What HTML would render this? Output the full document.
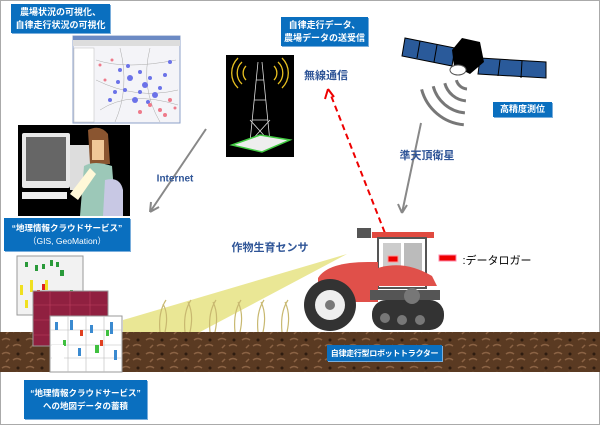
<!DOCTYPE html>
<html><head><meta charset="utf-8"><style>
body{margin:0;width:600px;height:425px;overflow:hidden;background:#fff;font-family:"Liberation Sans","Noto Sans CJK JP",sans-serif}
.f{position:absolute;left:0;top:0;width:598px;height:423px;border:1px solid #aaa}
.b{position:absolute;background:#0a6fbf;color:#fff;font-size:9px;font-weight:bold;text-align:center;line-height:13px;display:flex;flex-direction:column;justify-content:center;box-shadow:1px 1px 0 #7aaedc;white-space:nowrap}
.t{position:absolute;color:#2f5597;font-size:11px;font-weight:bold;white-space:nowrap;transform:translate(-50%,-50%)}
</style></head><body>
<div class="f"></div>
<svg width="600" height="425" style="position:absolute;left:0;top:0">
<defs>
<pattern id="soil" width="24" height="14" patternUnits="userSpaceOnUse"><rect width="24" height="14" fill="#5a3a22"/><path d="M2 4q4-3 8 0M13 10q4-3 8 0M6 12l3-3" stroke="#8a6244" stroke-width="1.5" fill="none"/><circle cx="18" cy="4" r="1.5" fill="#2e1c10"/></pattern>
</defs>
<rect x="0" y="332" width="600" height="40" fill="url(#soil)"/>
<polygon points="347,254 123,320 123,332 200,332" fill="#e8e48a" opacity="0.9"/>
<g stroke="#c8b870" stroke-width="1.2" fill="none">
<path d="M160 332q-2-20 6-32M165 332q4-18-2-28M185 332q-2-20 6-32M190 332q4-18-2-30M210 332q-2-20 6-32M215 332q4-18-2-30M235 332q-2-20 6-32M240 332q4-18-2-30M258 332q-2-20 6-32M263 332q4-18-2-30M282 332q-2-20 6-32M287 332q4-18-2-30"/>
</g>
<!-- screenshot -->
<rect x="73" y="36" width="107" height="87" fill="#f4f4f8" stroke="#8ca0c8"/>
<rect x="73" y="36" width="107" height="4" fill="#6c8ac4"/>
<rect x="73" y="40" width="107" height="6" fill="#ddd"/>
<rect x="74" y="48" width="20" height="74" fill="#fff" stroke="#bbb" stroke-width=".5"/>
<g stroke="#aaa" stroke-width=".5" fill="none"><path d="M96 60q30 10 80 0M96 80q40 20 82 10M100 110q30-20 78-5M120 48q10 40 -5 74M150 48q-10 40 10 74"/></g>
<g fill="#6b72e8"><circle cx="120" cy="70" r="2"/><circle cx="130" cy="78" r="3"/><circle cx="140" cy="72" r="2"/><circle cx="145" cy="85" r="3"/><circle cx="125" cy="90" r="2"/><circle cx="155" cy="95" r="3"/><circle cx="165" cy="75" r="2"/><circle cx="110" cy="100" r="2"/><circle cx="135" cy="100" r="3"/><circle cx="118" cy="82" r="2"/><circle cx="128" cy="66" r="2"/><circle cx="150" cy="78" r="2"/><circle cx="140" cy="92" r="2"/><circle cx="160" cy="88" r="2"/><circle cx="115" cy="92" r="2"/><circle cx="148" cy="102" r="2"/><circle cx="170" cy="62" r="2"/></g>
<g fill="#ee7a8a"><circle cx="112" cy="60" r="1.5"/><circle cx="150" cy="105" r="2"/><circle cx="160" cy="110" r="2"/><circle cx="170" cy="100" r="2"/><circle cx="105" cy="80" r="1.5"/><circle cx="165" cy="115" r="2"/><circle cx="140" cy="112" r="2"/><circle cx="100" cy="65" r="1.5"/><circle cx="175" cy="108" r="1.5"/></g>
<!-- computer image -->
<rect x="18" y="125" width="112" height="91" fill="#000"/>
<rect x="22" y="133" width="48" height="55" fill="#e8e8e8" rx="2"/>
<rect x="26" y="137" width="40" height="44" fill="#666"/>
<rect x="70" y="145" width="22" height="45" fill="#ddd"/>
<rect x="22" y="192" width="45" height="7" fill="#eee"/>
<path d="M88 130q12-6 20 4l2 30h-20z" fill="#8a5530"/>
<path d="M92 140h12v20h-12z" fill="#f0c898"/>
<path d="M84 166q10-6 28 0l4 50h-36z" fill="#9cc8b8"/>
<path d="M70 194l20-26 6 6-18 26z" fill="#fff8d8"/>
<path d="M105 180q15-4 18 10v26h-20z" fill="#c8c8e4"/>
<!-- tower -->
<rect x="226" y="55" width="68" height="102" fill="#000"/>
<g stroke="#ddd" stroke-width=".8" fill="none"><path d="M258 62l-8 80M262 62l8 80M252 120h16M254 100h12M256 80h8M250 142l20-22M270 142l-20-22"/></g>
<polygon points="232,145 260,135 290,140 262,152" fill="#eee" stroke="#4c4" stroke-width="1.5"/>
<g stroke="#e8c020" stroke-width="1.3" fill="none">
<path d="M246 66a10 10 0 0 0 0 14M242 62a15 15 0 0 0 0 22M238 58a21 21 0 0 0 0 30"/>
<path d="M274 66a10 10 0 0 1 0 14M278 62a15 15 0 0 1 0 22M282 58a21 21 0 0 1 0 30"/>
</g>
<!-- satellite -->
<polygon points="405,38 455,48 452,66 402,56" fill="#2a5a9a" stroke="#000"/>
<polygon points="480,58 546,62 546,78 478,74" fill="#2a5a9a" stroke="#000"/>
<path d="M420 41l-3 17M437 45l-3 17M500 60l-2 16M522 61l-1 17" stroke="#000"/>
<polygon points="462,38 480,42 484,62 470,74 454,66 452,50" fill="#000"/>
<ellipse cx="458" cy="70" rx="8" ry="5" fill="#fff" stroke="#555"/>
<g stroke="#777" stroke-width="3" fill="none">
<path d="M456.4 80.1A12 12 0 0 0 467 89"/>
<path d="M444.8 83.2A24 24 0 0 0 465.9 100.9"/>
<path d="M433.2 86.3A36 36 0 0 0 464.9 112.9"/>
<path d="M421.6 89.4A48 48 0 0 0 463.8 124.8"/>
</g>
<!-- arrows -->
<g stroke="#888" stroke-width="2" fill="none">
<path d="M206 129L150 212M150 212l1-10M150 212l9-5"/>
<path d="M421 123L402 213M402 213l-4-9M402 213l5-8"/>
</g>
<path d="M392 251L330 93" stroke="#e00" stroke-width="2" stroke-dasharray="6,4" fill="none"/>
<path d="M328 89l-3 10M328 89l6 8" stroke="#e00" stroke-width="2"/>
<!-- maps -->
<rect x="17" y="256" width="66" height="59" fill="#f2f2f2" stroke="#999"/>
<g fill="#2a9a3a"><rect x="25" y="262" width="3" height="5"/><rect x="35" y="265" width="3" height="6"/><rect x="50" y="260" width="3" height="6"/><rect x="60" y="270" width="4" height="6"/><rect x="70" y="290" width="3" height="5"/><rect x="65" y="305" width="3" height="4"/><rect x="42" y="264" width="3" height="5"/><rect x="56" y="262" width="3" height="5"/></g>
<g fill="#f0e020"><rect x="20" y="285" width="3" height="10"/><rect x="30" y="280" width="3" height="12"/><rect x="45" y="280" width="3" height="10"/><rect x="25" y="300" width="3" height="8"/></g>
<g fill="#e02020"><rect x="37" y="290" width="3" height="8"/><rect x="48" y="295" width="3" height="6"/><rect x="36" y="305" width="4" height="4"/><rect x="42" y="284" width="3" height="6"/></g>
<rect x="33" y="291" width="75" height="55" fill="#902040" stroke="#999"/>
<g stroke="#c04060" stroke-width=".6"><path d="M33 305h75M33 320h75M33 335h75M50 291v55M70 291v55M90 291v55"/></g>
<rect x="50" y="316" width="72" height="56" fill="#fff" stroke="#999"/>
<g stroke="#bbb" stroke-width=".6"><path d="M50 330h72M50 345h72M50 358h72M68 316v56M86 316v56M104 316v56"/></g>
<g fill="#3a8ad0"><rect x="55" y="322" width="3" height="8"/><rect x="70" y="320" width="3" height="10"/><rect x="90" y="325" width="3" height="8"/><rect x="110" y="322" width="3" height="12"/><rect x="78" y="348" width="3" height="8"/><rect x="114" y="350" width="3" height="10"/></g>
<g fill="#e04020"><rect x="80" y="330" width="3" height="6"/><rect x="100" y="340" width="3" height="6"/><rect x="60" y="350" width="3" height="5"/></g>
<g fill="#40c040"><rect x="63" y="340" width="3" height="6"/><rect x="95" y="345" width="4" height="8"/><rect x="106" y="330" width="3" height="6"/></g>
<rect x="52" y="345" width="12" height="25" fill="#fff"/>
<!-- tractor -->
<g>
<rect x="372" y="232" width="62" height="6" fill="#e04a40"/>
<rect x="378" y="238" width="48" height="50" fill="#fff" stroke="#555" stroke-width="2"/>
<rect x="383" y="243" width="18" height="40" fill="#ccc"/>
<rect x="404" y="243" width="18" height="30" fill="#bbb"/>
<rect x="357" y="228" width="14" height="10" fill="#555"/>
<path d="M318 278q10-16 50-16l10 0v40h-60z" fill="#e0504a"/>
<path d="M372 270q30-12 60 6l5 10h-65z" fill="#e0504a"/>
<rect x="370" y="290" width="70" height="10" fill="#555"/>
<rect x="372" y="300" width="72" height="30" rx="14" fill="#333"/>
<g fill="#777"><circle cx="385" cy="318" r="5"/><circle cx="402" cy="320" r="5"/><circle cx="420" cy="320" r="5"/><circle cx="412" cy="296" r="8"/></g>
<circle cx="330" cy="305" r="26" fill="#333"/>
<circle cx="330" cy="305" r="15" fill="#eee"/>
<circle cx="330" cy="305" r="5" fill="#777"/>
<rect x="388" y="256" width="10" height="6" fill="#e00" stroke="#f99"/>
</g>
<rect x="439" y="255" width="17" height="6" fill="#e00" stroke="#f8a"/>
</svg>
<div class="b" style="left:11px;top:4px;width:99px;height:29px">農場状況の可視化、<span>自律走行状況の可視化</span></div>
<div class="b" style="left:281px;top:17px;width:87px;height:29px">自律走行データ、<span>農場データの送受信</span></div>
<div class="b" style="left:493px;top:102px;width:59px;height:15px">高精度測位</div>
<div class="b" style="left:4px;top:218px;width:126px;height:33px;font-size:8.5px">“地理情報クラウドサービス”<span style="font-weight:normal">（GIS, GeoMation）</span></div>
<div class="b" style="left:24px;top:380px;width:123px;height:39px;font-size:8.5px">“地理情報クラウドサービス”<span>への地図データの蓄積</span></div>
<div class="b" style="left:327px;top:345px;width:115px;height:16px;font-size:8px;letter-spacing:-0.3px">自律走行型ロボットトラクター</div>
<div class="t" style="left:175px;top:179px;font-size:10px">Internet</div>
<div class="t" style="left:326px;top:75px">無線通信</div>
<div class="t" style="left:427px;top:155px">準天頂衛星</div>
<div class="t" style="left:270px;top:247px">作物生育センサ</div>
<div class="t" style="left:497px;top:260px;color:#000;font-weight:normal">:データロガー</div>
</body></html>
